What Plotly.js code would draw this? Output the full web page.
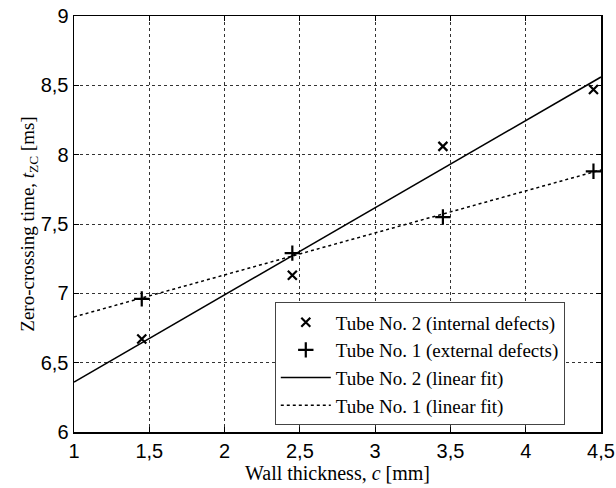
<!DOCTYPE html>
<html>
<head>
<meta charset="utf-8">
<script src="https://cdn.plot.ly/plotly-3.0.1.min.js"></script>
<style>body{margin:0;padding:0;background:#fff;} #chart{width:616px;height:488px;}</style>
</head>
<body>
<div id="chart"></div>
<script>
// Measured data
const thickness = [1.45, 2.45, 3.45, 4.45];
const tube2Internal = [6.67, 7.13, 8.06, 8.47];
const tube1External = [6.96, 7.29, 7.55, 7.88];
// Linear fits (endpoints)
const fitX = [1, 4.5];
const fitTube2 = [6.36, 8.56];
const fitTube1 = [6.83, 7.89];
const xTicks = [1, 1.5, 2, 2.5, 3, 3.5, 4, 4.5];
const yTicks = [6, 6.5, 7, 7.5, 8, 8.5, 9];

const traces = [
  {x: thickness, y: tube2Internal, mode: 'markers', name: 'Tube No. 2 (internal defects)',
   marker: {symbol: 'x-thin-open', size: 9, color: '#000', line: {width: 2.2, color: '#000'}}},
  {x: thickness, y: tube1External, mode: 'markers', name: 'Tube No. 1 (external defects)',
   marker: {symbol: 'cross-thin-open', size: 11, color: '#000', line: {width: 2.2, color: '#000'}}},
  {x: fitX, y: fitTube2, mode: 'lines', name: 'Tube No. 2 (linear fit)',
   line: {color: '#000', width: 1.5}},
  {x: fitX, y: fitTube1, mode: 'lines', name: 'Tube No. 1 (linear fit)',
   line: {color: '#000', width: 1.5, dash: 'dot'}}
];

const axisCommon = {
  showline: true, linecolor: '#000', linewidth: 1.5, mirror: 'ticks',
  ticks: 'inside', ticklen: 5, tickcolor: '#000', tickwidth: 1,
  showgrid: true, gridcolor: '#333', griddash: 'dot', gridwidth: 1,
  zeroline: false,
  tickfont: {family: 'Liberation Sans, Arial, sans-serif', size: 20, color: '#000'}
};

const layout = {
  width: 616, height: 488,
  margin: {l: 74, r: 15, t: 16, b: 56},
  paper_bgcolor: '#fff', plot_bgcolor: '#fff',
  separators: ',.',
  showlegend: true,
  xaxis: Object.assign({}, axisCommon, {
    range: [1, 4.5], tickvals: xTicks, automargin: false,
    title: {text: 'Wall thickness, <i>c</i> [mm]', standoff: 2,
            font: {family: 'Liberation Serif, Times New Roman, serif', size: 20, color: '#000'}}
  }),
  yaxis: Object.assign({}, axisCommon, {
    range: [6, 9], tickvals: yTicks, automargin: false, ticksuffix: '\u2009\u2009',
    title: {text: 'Zero-crossing time, <i>t</i><sub>ZC</sub> [ms]', standoff: 0,
            font: {family: 'Liberation Serif, Times New Roman, serif', size: 19, color: '#000'}}
  }),
  legend: {
    x: 0.381, y: 0.016, xanchor: 'left', yanchor: 'bottom',
    bgcolor: '#fff', bordercolor: '#444', borderwidth: 1,
    itemwidth: 50,
    font: {family: 'Liberation Serif, Times New Roman, serif', size: 19, color: '#000'},
    tracegroupgap: 0
  }
};

Plotly.newPlot('chart', traces, layout, {displayModeBar: false, staticPlot: true});
</script>
</body>
</html>
